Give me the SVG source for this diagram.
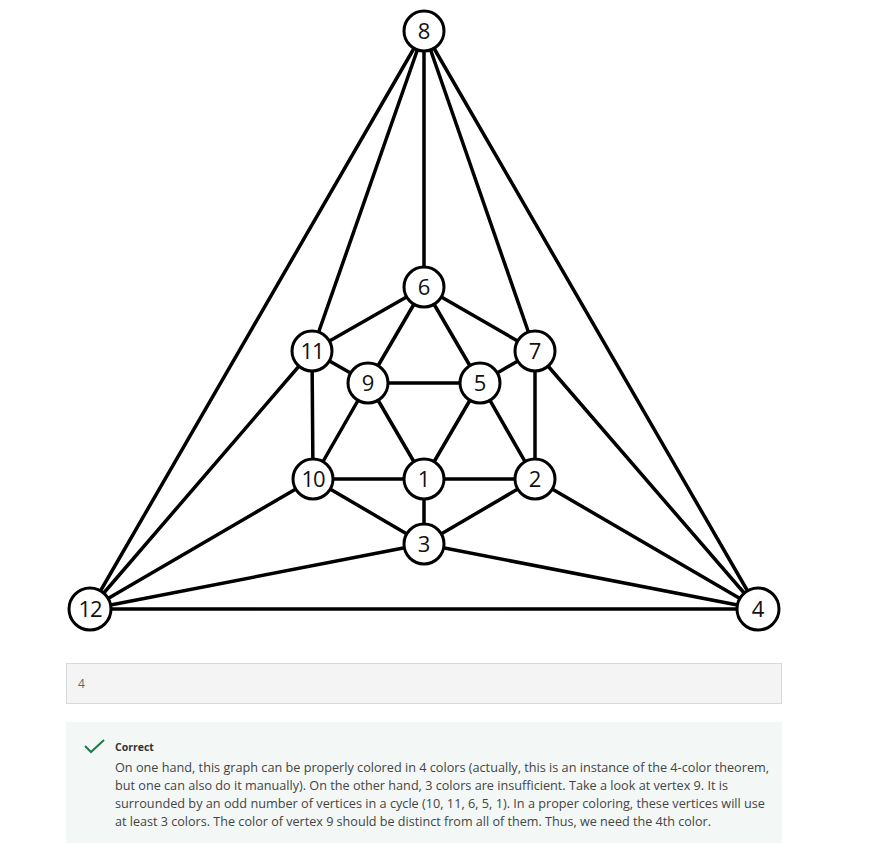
<svg xmlns="http://www.w3.org/2000/svg" width="894" height="849" viewBox="0 0 894 849">
<style>
.e{stroke:#000;stroke-width:3.5;stroke-linecap:round}
.n circle{fill:#fff;stroke:#000;stroke-width:3}
.n text{font-family:"Open Sans","Noto Sans",sans-serif;font-size:22px;fill:#111;text-anchor:middle}
.body{font-family:"Open Sans","Noto Sans",sans-serif;font-size:13px;fill:#444}
</style>
<rect width="894" height="849" fill="#fff"/>
<g id="connectors">
<line class="e" x1="424" y1="31" x2="90" y2="609"/>
<line class="e" x1="424" y1="31" x2="758" y2="609"/>
<line class="e" x1="424" y1="31" x2="424" y2="287"/>
<line class="e" x1="424" y1="31" x2="312" y2="351"/>
<line class="e" x1="424" y1="31" x2="535" y2="351"/>
<line class="e" x1="90" y1="609" x2="758" y2="609"/>
<line class="e" x1="90" y1="609" x2="312" y2="351"/>
<line class="e" x1="90" y1="609" x2="313" y2="479"/>
<line class="e" x1="90" y1="609" x2="424" y2="544"/>
<line class="e" x1="758" y1="609" x2="535" y2="351"/>
<line class="e" x1="758" y1="609" x2="535" y2="479"/>
<line class="e" x1="758" y1="609" x2="424" y2="544"/>
<line class="e" x1="424" y1="287" x2="312" y2="351"/>
<line class="e" x1="424" y1="287" x2="535" y2="351"/>
<line class="e" x1="424" y1="287" x2="368" y2="383"/>
<line class="e" x1="424" y1="287" x2="480" y2="383"/>
<line class="e" x1="312" y1="351" x2="368" y2="383"/>
<line class="e" x1="312" y1="351" x2="313" y2="479"/>
<line class="e" x1="535" y1="351" x2="480" y2="383"/>
<line class="e" x1="535" y1="351" x2="535" y2="479"/>
<line class="e" x1="368" y1="383" x2="480" y2="383"/>
<line class="e" x1="368" y1="383" x2="313" y2="479"/>
<line class="e" x1="368" y1="383" x2="424" y2="479"/>
<line class="e" x1="480" y1="383" x2="424" y2="479"/>
<line class="e" x1="480" y1="383" x2="535" y2="479"/>
<line class="e" x1="313" y1="479" x2="424" y2="479"/>
<line class="e" x1="313" y1="479" x2="424" y2="544"/>
<line class="e" x1="424" y1="479" x2="535" y2="479"/>
<line class="e" x1="424" y1="479" x2="424" y2="544"/>
<line class="e" x1="535" y1="479" x2="424" y2="544"/>
</g>
<g id="node8" class="n"><circle cx="424" cy="31" r="20"/><text x="424" y="39">8</text></g>
<g id="node6" class="n"><circle cx="424" cy="287" r="20"/><text x="424" y="295">6</text></g>
<g id="node11" class="n"><circle cx="312" cy="351" r="20"/><text x="312" y="359" letter-spacing="-1">11</text></g>
<g id="node7" class="n"><circle cx="535" cy="351" r="20"/><text x="535" y="359">7</text></g>
<g id="node9" class="n"><circle cx="368" cy="383" r="20"/><text x="368" y="391">9</text></g>
<g id="node5" class="n"><circle cx="480" cy="383" r="20"/><text x="480" y="391">5</text></g>
<g id="node10" class="n"><circle cx="313" cy="479" r="20"/><text x="313" y="487" letter-spacing="-1">10</text></g>
<g id="node1" class="n"><circle cx="424" cy="479" r="20"/><text x="424" y="487">1</text></g>
<g id="node2" class="n"><circle cx="535" cy="479" r="20"/><text x="535" y="487">2</text></g>
<g id="node3" class="n"><circle cx="424" cy="544" r="20"/><text x="424" y="552">3</text></g>
<g id="node12" class="n"><circle cx="90" cy="609" r="21"/><text x="90" y="617" letter-spacing="-1">12</text></g>
<g id="node4" class="n"><circle cx="758" cy="609" r="21"/><text x="758" y="617">4</text></g>
<g id="answer">
<rect x="66.5" y="663.5" width="715" height="40" fill="#f4f4f4" stroke="#d8d8d8" stroke-width="1"/>
<text x="78" y="688" font-family="'Open Sans','Noto Sans',sans-serif" font-size="12" fill="#666">4</text>
</g>
<g id="feedback">
<rect x="66" y="722" width="716" height="121" fill="#f3f8f6"/>
<polyline points="85,746 91,752 104,740" fill="none" stroke="#1f7a4a" stroke-width="2"/>
<text x="115" y="751" font-family="'Open Sans','Noto Sans',sans-serif" font-size="10.5" font-weight="bold" fill="#333">Correct</text>
<text class="body" x="115" y="772" textLength="654" lengthAdjust="spacingAndGlyphs">On one hand, this graph can be properly colored in 4 colors (actually, this is an instance of the 4-color theorem,</text>
<text class="body" x="115" y="790" textLength="613" lengthAdjust="spacingAndGlyphs">but one can also do it manually). On the other hand, 3 colors are insufficient. Take a look at vertex 9. It is</text>
<text class="body" x="115" y="808" textLength="650" lengthAdjust="spacingAndGlyphs">surrounded by an odd number of vertices in a cycle (10, 11, 6, 5, 1). In a proper coloring, these vertices will use</text>
<text class="body" x="115" y="826" textLength="596" lengthAdjust="spacingAndGlyphs">at least 3 colors. The color of vertex 9 should be distinct from all of them. Thus, we need the 4th color.</text>
</g>
</svg>
